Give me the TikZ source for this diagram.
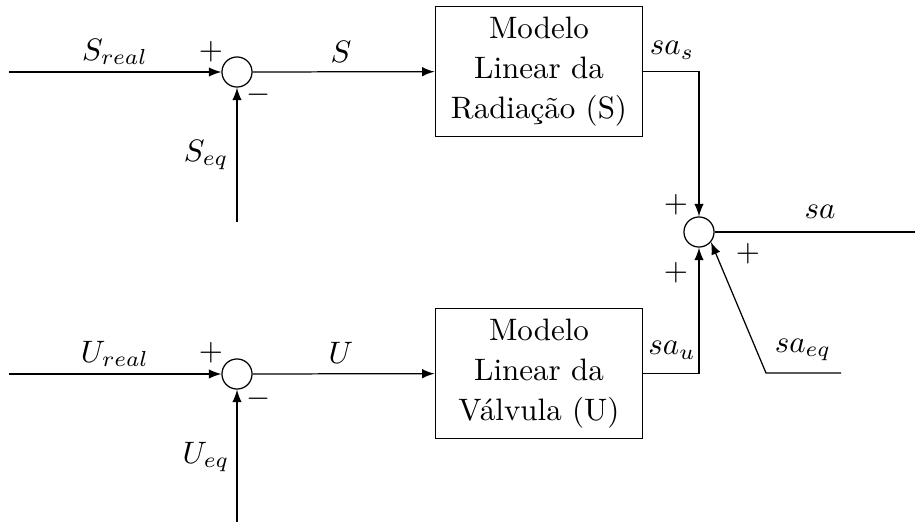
\documentclass[tikz,border=0pt]{standalone}
\usetikzlibrary{arrows}

\begin{document}
\begin{tikzpicture}[x=0.3226pt,y=-0.3226pt,
    sumnode/.style={draw,circle,inner sep=0pt,minimum size=9.7pt},
    modelbox/.style={draw,align=center,minimum width=67pt,minimum height=41pt,
      font=\fontsize{10}{13}\selectfont},
    sig/.style={-latex}
  ]
    \useasboundingbox (0,0) rectangle (915,522);

    % radiation branch
    \node[sumnode] (sumS) at (237,72) {};
    \node[modelbox] (boxS) at (539,71.5) {Modelo\\Linear da\\Radiação (S)};
    \coordinate (inS) at (9,72);
    \coordinate (eqS) at (237,222);
    \draw[sig] (inS) -- (sumS);
    \draw[sig] (eqS) -- (sumS);
    \draw[sig] (sumS) -- (boxS);

    % valve branch
    \node[sumnode] (sumU) at (237,374) {};
    \node[modelbox] (boxU) at (539,373.5) {Modelo\\Linear da\\Válvula (U)};
    \coordinate (inU) at (9,374);
    \coordinate (eqU) at (237,522);
    \draw[sig] (inU) -- (sumU);
    \draw[sig] (eqU) -- (sumU);
    \draw[sig] (sumU) -- (boxU);

    % output sum
    \node[sumnode] (sumA) at (699,232) {};
    \coordinate (outA) at (915,232);
    \coordinate (eqA) at (766,373);
    \coordinate (eqAend) at (841,373);
    \draw[sig] (boxS.east) -- (boxS.east -| sumA) -- (sumA);
    \draw[sig] (boxU.east) -- (boxU.east -| sumA) -- (sumA);
    \draw (sumA) -- (outA);
    \draw[sig] (eqAend) -- (eqA) -- (sumA.-40);

    % labels
    \node (lSreal) at (115,52) {$S_{real}$};
    \node (lS) at (341,52) {$S$};
    \node (lSeq) at (206,155) {$S_{eq}$};
    \node (pS) at (211,52) {$+$};
    \node (mS) at (259,95) {$-$};
    \node (lsas) at (672,50) {$sa_s$};

    \node (lUreal) at (115,354) {$U_{real}$};
    \node (lU) at (341,353) {$U$};
    \node (lUeq) at (206,457) {$U_{eq}$};
    \node (pU) at (211,353) {$+$};
    \node (mU) at (259,399) {$-$};
    \node (lsau) at (672,350) {$sa_u$};

    \node (lsa) at (820,212) {$sa$};
    \node (lsaeq) at (803,350) {$sa_{eq}$};
    \node (pA1) at (676,205) {$+$};
    \node (pA2) at (676,273) {$+$};
    \node (pA3) at (748,254) {$+$};
\end{tikzpicture}
\end{document}
